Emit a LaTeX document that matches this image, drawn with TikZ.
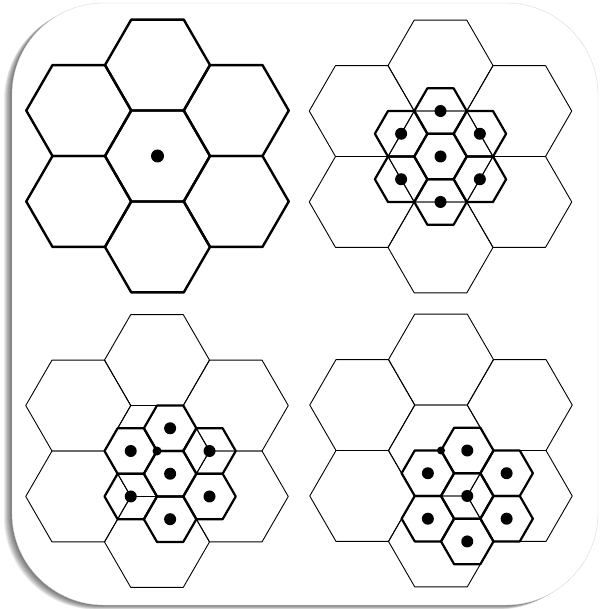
\documentclass[tikz,border=0pt]{standalone}
\begin{document}
\begin{tikzpicture}[x=1pt,y=-1pt,line join=round,
  coarse/.style={line width=2.4pt},
  fine/.style={line width=0.9pt},
  split/.style={line width=2.2pt}]
  \useasboundingbox (0,0) rectangle (600,609);

  % card with soft shadow
  \foreach \k in {1,...,10}
    \fill[black,opacity=0.07,rounded corners=92pt] ({12-\k*0.8},{3+\k*0.45}) rectangle ({598-\k*0.8},{605+\k*0.45});
  \draw[black!15,fill=white,rounded corners=92pt] (12,3) rectangle (598,605);

  % one cell per site
  \begin{scope}[shift={(157.5,156)}]
    \draw[coarse] (0:52.5) -- ++(120:52.5) -- ++(180:52.5) -- ++(240:52.5) -- ++(300:52.5) -- ++(0:52.5) -- cycle;
    \foreach \a in {30,90,...,330}
      \draw[coarse] (\a:90.93) ++(0:52.5) -- ++(120:52.5) -- ++(180:52.5) -- ++(240:52.5) -- ++(300:52.5) -- ++(0:52.5) -- cycle;
    \fill (0,0) circle (6.5pt);
  \end{scope}
  % split, centred on the cell
  \begin{scope}[shift={(440.5,156.5)}]
    \draw[fine] (0:52.5) -- ++(120:52.5) -- ++(180:52.5) -- ++(240:52.5) -- ++(300:52.5) -- ++(0:52.5) -- cycle;
    \foreach \a in {30,90,...,330}
      \draw[fine] (\a:90.93) ++(0:52.5) -- ++(120:52.5) -- ++(180:52.5) -- ++(240:52.5) -- ++(300:52.5) -- ++(0:52.5) -- cycle;
    \draw[split] (0:26.25) -- ++(120:26.25) -- ++(180:26.25) -- ++(240:26.25) -- ++(300:26.25) -- ++(0:26.25) -- cycle;
    \fill (0,0) circle (6pt);
    \foreach \a in {30,90,...,330} {
      \draw[split] (\a:45.47) ++(0:26.25) -- ++(120:26.25) -- ++(180:26.25) -- ++(240:26.25) -- ++(300:26.25) -- ++(0:26.25) -- cycle;
      \fill (\a:45.47) circle (6pt);
    }
  \end{scope}
  % split, shifted by half a small cell
  \begin{scope}[shift={(157,451)}]
    \draw[fine] (0:52.5) -- ++(120:52.5) -- ++(180:52.5) -- ++(240:52.5) -- ++(300:52.5) -- ++(0:52.5) -- cycle;
    \foreach \a in {30,90,...,330}
      \draw[fine] (\a:90.93) ++(0:52.5) -- ++(120:52.5) -- ++(180:52.5) -- ++(240:52.5) -- ++(300:52.5) -- ++(0:52.5) -- cycle;
    \fill (0,0) circle (4.5pt);
    \begin{scope}[shift={(60:26.25)}]
      \draw[split] (0:26.25) -- ++(120:26.25) -- ++(180:26.25) -- ++(240:26.25) -- ++(300:26.25) -- ++(0:26.25) -- cycle;
      \fill (0,0) circle (6pt);
      \foreach \a in {30,90,...,330} {
        \draw[split] (\a:45.47) ++(0:26.25) -- ++(120:26.25) -- ++(180:26.25) -- ++(240:26.25) -- ++(300:26.25) -- ++(0:26.25) -- cycle;
        \fill (\a:45.47) circle (6pt);
      }
    \end{scope}
  \end{scope}
  % split, centred on a corner
  \begin{scope}[shift={(441,450.5)}]
    \draw[fine] (0:52.5) -- ++(120:52.5) -- ++(180:52.5) -- ++(240:52.5) -- ++(300:52.5) -- ++(0:52.5) -- cycle;
    \foreach \a in {30,90,...,330}
      \draw[fine] (\a:90.93) ++(0:52.5) -- ++(120:52.5) -- ++(180:52.5) -- ++(240:52.5) -- ++(300:52.5) -- ++(0:52.5) -- cycle;
    \fill (0,0) circle (4pt);
    \begin{scope}[shift={(60:52.5)}]
      \draw[split] (0:26.25) -- ++(120:26.25) -- ++(180:26.25) -- ++(240:26.25) -- ++(300:26.25) -- ++(0:26.25) -- cycle;
      \fill (0,0) circle (6pt);
      \foreach \a in {30,90,...,330} {
        \draw[split] (\a:45.47) ++(0:26.25) -- ++(120:26.25) -- ++(180:26.25) -- ++(240:26.25) -- ++(300:26.25) -- ++(0:26.25) -- cycle;
        \fill (\a:45.47) circle (6pt);
      }
    \end{scope}
  \end{scope}
\end{tikzpicture}
\end{document}
